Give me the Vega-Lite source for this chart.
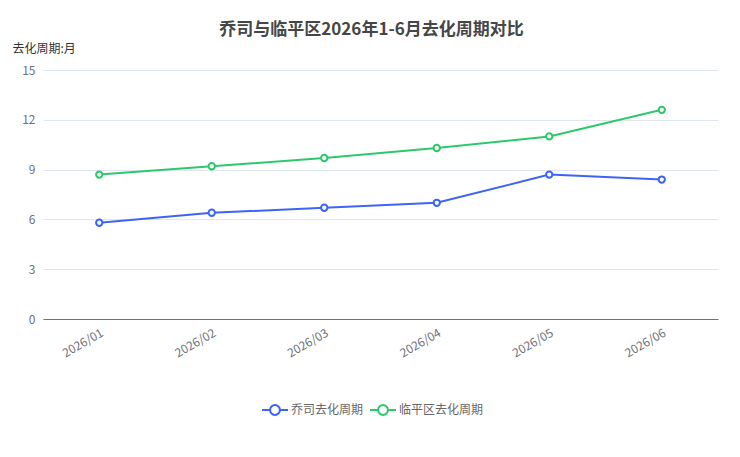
{
  "$schema": "https://vega.github.io/schema/vega-lite/v6.json",
  "width": 675,
  "height": 249,
  "autosize": {"type": "none"},
  "padding": {"left": 43, "top": 70, "right": 22, "bottom": 138},
  "background": "white",
  "title": {
    "text": "乔司与临平区2026年1-6月去化周期对比",
    "fontSize": 17,
    "fontWeight": "bold",
    "color": "#464646",
    "font": "Noto Sans CJK SC",
    "anchor": "middle",
    "dx": -9,
    "dy": 13,
    "offset": 16
  },
  "config": {
    "font": "Noto Sans CJK SC",
    "view": {"stroke": null}
  },
  "data": {
    "values": [
      {"month": "2026/01", "series": "乔司去化周期", "value": 5.8},
      {"month": "2026/02", "series": "乔司去化周期", "value": 6.4},
      {"month": "2026/03", "series": "乔司去化周期", "value": 6.7},
      {"month": "2026/04", "series": "乔司去化周期", "value": 7.0},
      {"month": "2026/05", "series": "乔司去化周期", "value": 8.7},
      {"month": "2026/06", "series": "乔司去化周期", "value": 8.4},
      {"month": "2026/01", "series": "临平区去化周期", "value": 8.7},
      {"month": "2026/02", "series": "临平区去化周期", "value": 9.2},
      {"month": "2026/03", "series": "临平区去化周期", "value": 9.7},
      {"month": "2026/04", "series": "临平区去化周期", "value": 10.3},
      {"month": "2026/05", "series": "临平区去化周期", "value": 11.0},
      {"month": "2026/06", "series": "临平区去化周期", "value": 12.6}
    ]
  },
  "encoding": {
    "x": {
      "field": "month",
      "type": "ordinal",
      "scale": {"type": "point", "padding": 0.5},
      "axis": {
        "title": null,
        "labelAngle": -30,
        "labelAlign": "right",
        "labelBaseline": "top",
        "labelFontSize": 12,
        "labelColor": "#6e7079",
        "labelPadding": 8,
        "ticks": false,
        "domainColor": "#6e7079",
        "domainWidth": 1,
        "grid": false
      }
    },
    "y": {
      "field": "value",
      "type": "quantitative",
      "scale": {"domain": [0, 15], "nice": false},
      "axis": {
        "values": [0, 3, 6, 9, 12, 15],
        "title": "去化周期:月",
        "titleAngle": 0,
        "titleAlign": "left",
        "titleBaseline": "bottom",
        "titleX": -31,
        "titleY": -15,
        "titleFontSize": 12,
        "titleFontWeight": "normal",
        "titleColor": "#333333",
        "labelFontSize": 12,
        "labelColor": "#6e7079",
        "labelPadding": 8,
        "ticks": false,
        "domain": false,
        "gridColor": "#e0e6f1",
        "gridWidth": 1
      }
    },
    "color": {
      "field": "series",
      "type": "nominal",
      "scale": {
        "domain": ["乔司去化周期", "临平区去化周期"],
        "range": ["#3e63f7", "#2dc86b"]
      },
      "legend": {
        "title": null,
        "orient": "none",
        "direction": "horizontal",
        "legendX": 218,
        "legendY": 326,
        "symbolType": "M-1,0H-0.38M0.38,0H1M-0.38,0A0.38,0.38,0,1,1,0.38,0A0.38,0.38,0,1,1,-0.38,0",
        "symbolSize": 676,
        "symbolStrokeWidth": 2,
        "symbolFillColor": "white",
        "labelFontSize": 12,
        "labelColor": "#666666",
        "labelOffset": 2,
        "columnPadding": 2
      }
    }
  },
  "layer": [
    {"mark": {"type": "line", "strokeWidth": 2}},
    {"mark": {"type": "point", "filled": false, "fill": "white", "strokeWidth": 2, "size": 40, "opacity": 1}}
  ]
}
